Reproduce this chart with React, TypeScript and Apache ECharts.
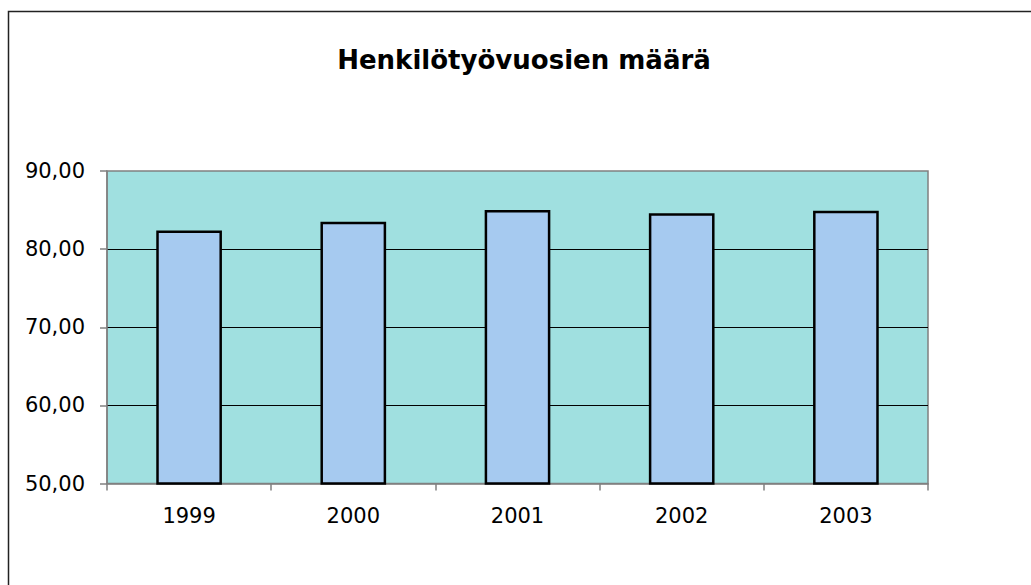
import React, { useEffect, useRef } from "react";
import * as echarts from "echarts";

const categories = ["1999", "2000", "2001", "2002", "2003"];
const values = [82.4, 83.5, 85.0, 84.6, 84.9];
const yMin = 50;
const yMax = 90;
const yInterval = 10;
const titleText = "Henkilötyövuosien määrä";

export default function App() {
  const ref = useRef<HTMLDivElement>(null);
  useEffect(() => {
    if (!ref.current) return;
    const chart = echarts.init(ref.current, undefined, { renderer: "svg" });
    const font = "'DejaVu Sans', 'Liberation Sans', Arial, sans-serif";
    chart.setOption({
      animation: false,
      backgroundColor: "#ffffff",
      textStyle: { fontFamily: font },
      grid: {
        left: 107,
        top: 171,
        right: 103,
        bottom: 101.5,
        show: true,
        backgroundColor: "#A0E0E0",
        borderColor: "#808080",
        borderWidth: 1.5,
      },
      graphic: [
        {
          type: "rect",
          shape: { x: 8.5, y: 11.5, width: 1200, height: 800 },
          style: { fill: "none", stroke: "#222", lineWidth: 1.5 },
          silent: true,
        },
        {
          type: "text",
          x: 524,
          y: 60,
          style: {
            text: titleText,
            fontFamily: font,
            fontWeight: "bold",
            fontSize: 26,
            fill: "#000",
            textAlign: "center",
            textVerticalAlign: "middle",
          },
        },
      ],
      xAxis: {
        type: "category",
        data: categories,
        axisLine: { show: true, lineStyle: { color: "#808080", width: 1.5 } },
        axisTick: { show: true, length: 7, lineStyle: { color: "#808080", width: 1.5 } },
        axisLabel: { color: "#000", fontSize: 21, fontFamily: font, margin: 22 },
        splitLine: { show: false },
      },
      yAxis: {
        type: "value",
        min: yMin,
        max: yMax,
        interval: yInterval,
        axisLine: { show: true, lineStyle: { color: "#808080", width: 1.5 } },
        axisTick: { show: true, length: 7, lineStyle: { color: "#808080", width: 1.5 } },
        axisLabel: {
          color: "#000",
          fontSize: 21,
          fontFamily: font,
          margin: 22,
          formatter: (v: number) => v.toFixed(2).replace(".", ","),
        },
        splitLine: {
          show: true,
          showMinLine: false,
          showMaxLine: false,
          lineStyle: { color: "#000", width: 1 },
        },
      },
      series: [
        {
          type: "bar",
          data: values,
          barWidth: "40%",
          itemStyle: { color: "#A6CAF0", borderColor: "#000", borderWidth: 2.5 },
        },
      ],
    });
    return () => chart.dispose();
  }, []);
  return (
    <div
      ref={ref}
      style={{ position: "fixed", left: 0, top: 0, width: 1031, height: 585 }}
    />
  );
}
